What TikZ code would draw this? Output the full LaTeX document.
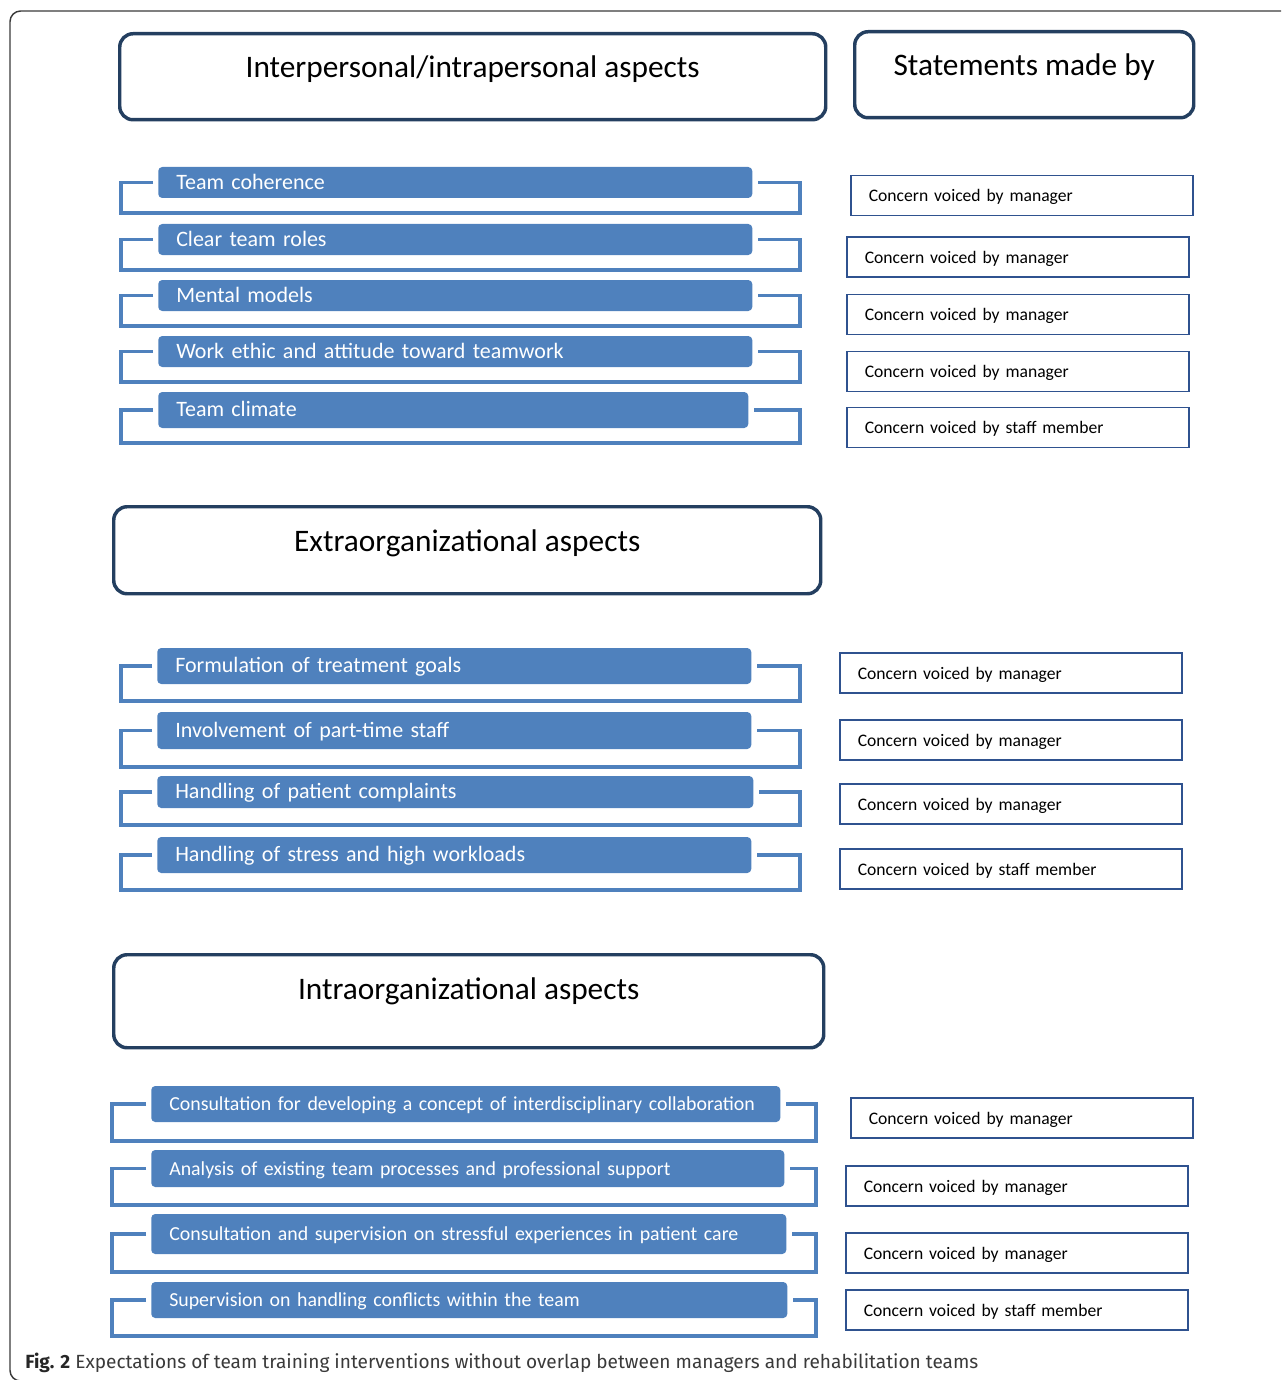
\documentclass[tikz,border=0pt]{standalone}
\usepackage{fontspec}
\setmainfont{Carlito}
\newfontfamily\capfont{Fira Sans}
\usepackage{tikz}
\definecolor{barblue}{HTML}{4F81BD}
\definecolor{headblue}{HTML}{243F60}
\definecolor{boxblue}{HTML}{2F528F}
\definecolor{capgray}{HTML}{3A3A3A}

\begin{document}
\begin{tikzpicture}[x=0.75pt,y=-0.75pt,
    head/.style={draw=headblue,line width=2.6pt,rounded corners=10pt,anchor=north west,
        inner sep=0pt,text height=33pt,text depth=31.5pt,font=\fontsize{23.5}{28}\selectfont},
    bar/.style={fill=barblue,rounded corners=3pt,anchor=west,text=white,text width=#1,align=left,
        inner xsep=13.5pt,inner ysep=0pt,text height=11pt,text depth=1pt,
        font=\fontsize{16.5}{20}\selectfont},
    smallbar/.style={bar=#1,font=\fontsize{14.9}{18}\selectfont},
    bracket/.style={draw=barblue,line width=2.8pt},
    voice/.style={draw=boxblue,line width=1.2pt,anchor=west,text width=229.5pt,align=left,
        inner xsep=13.5pt,inner ysep=0pt,minimum height=30pt,text height=9pt,text depth=0pt,
        font=\fontsize{13.2}{16}\selectfont}]
    \useasboundingbox(0,0)rectangle(1281,1380);
    % frame
    \draw[color=capgray,line width=1.1pt,rounded corners=8pt](1281,11)--(10,11)--(10,1381)--(1281,1381);

    % headers
    \node[head,minimum width=529.5pt](inter)at(118,32){Interpersonal/intrapersonal aspects};
    \node[head,minimum width=254.25pt](stat)at(853,30){Statements made by};
    \node[head,minimum width=530.25pt,text height=33.75pt](extra)at(112,505){Extraorganizational aspects};
    \node[head,minimum width=532.5pt,text height=33.75pt,text depth=36pt](intra)at(112,953){Intraorganizational aspects};

    % interpersonal/intrapersonal
    \node[bar=418.5pt,minimum height=23.25pt](coh)at(158,182.5){Team coherence};
    \node[bar=418.5pt,minimum height=23.25pt](roles)at(158,239.5){Clear team roles};
    \node[bar=418.5pt,minimum height=23.25pt](models)at(158,295.5){Mental models};
    \node[bar=418.5pt,minimum height=23.25pt](ethic)at(158,351.5){Work ethic and attitude toward teamwork};
    \node[bar=415.5pt,minimum height=27pt](climate)at(158,410){Team climate};
    \draw[bracket]([xshift=-3.75pt]coh.west)-|(121,213)--(800,213)|-([xshift=3.75pt]coh.east);
    \draw[bracket]([xshift=-3.75pt]roles.west)-|(121,270)--(800,270)|-([xshift=3.75pt]roles.east);
    \draw[bracket]([xshift=-3.75pt]models.west)-|(121,326)--(800,326)|-([xshift=3.75pt]models.east);
    \draw[bracket]([xshift=-3.75pt]ethic.west)-|(121,382)--(800,382)|-([xshift=3.75pt]ethic.east);
    \draw[bracket]([xshift=-3.75pt]climate.west)-|(121,443)--(800,443)|-([xshift=3.75pt]climate.east);
    \node[voice](v1)at(850,195.5){Concern voiced by manager};
    \node[voice](v2)at(846,257){Concern voiced by manager};
    \node[voice](v3)at(846,314.5){Concern voiced by manager};
    \node[voice](v4)at(846,371.5){Concern voiced by manager};
    \node[voice](v5)at(846,427.5){Concern voiced by staff member};

    % extraorganizational
    \node[bar=418.5pt,minimum height=27pt](goals)at(157,666){Formulation of treatment goals};
    \node[bar=418.5pt,minimum height=27.75pt](part)at(157,730.5){Involvement of part-time staff};
    \node[bar=420pt,minimum height=24pt](compl)at(157,792){Handling of patient complaints};
    \node[bar=418.5pt,minimum height=27pt](stress)at(157,855){Handling of stress and high workloads};
    \draw[bracket]([xshift=-3.75pt]goals.west)-|(121,701)--(800,701)|-([xshift=3.75pt]goals.east);
    \draw[bracket]([xshift=-3.75pt]part.west)-|(121,767)--(800,767)|-([xshift=3.75pt]part.east);
    \draw[bracket]([xshift=-3.75pt]compl.west)-|(121,825)--(800,825)|-([xshift=3.75pt]compl.east);
    \draw[bracket]([xshift=-3.75pt]stress.west)-|(121,890)--(800,890)|-([xshift=3.75pt]stress.east);
    \node[voice](v6)at(839,673){Concern voiced by manager};
    \node[voice](v7)at(839,740){Concern voiced by manager};
    \node[voice](v8)at(839,804){Concern voiced by manager};
    \node[voice](v9)at(839,869){Concern voiced by staff member};

    % intraorganizational
    \node[smallbar=444.75pt,minimum height=27pt](concept)at(151,1104){Consultation for developing a concept of interdisciplinary collaboration};
    \node[smallbar=447.75pt,minimum height=27.75pt](analysis)at(151,1168.5){Analysis of existing team processes and professional support};
    \node[smallbar=449.25pt,minimum height=30pt](superv)at(151,1234){Consultation and supervision on stressful experiences in patient care};
    \node[smallbar=450pt,minimum height=27pt](confl)at(151,1300){Supervision on handling conflicts within the team};
    \draw[bracket]([xshift=-3.75pt]concept.west)-|(112,1141)--(816,1141)|-([xshift=3.75pt]concept.east);
    \draw[bracket]([xshift=-3.75pt]analysis.west)-|(112,1205)--(816,1205)|-([xshift=3.75pt]analysis.east);
    \draw[bracket]([xshift=-3.75pt]superv.west)-|(112,1272)--(816,1272)|-([xshift=3.75pt]superv.east);
    \draw[bracket]([xshift=-3.75pt]confl.west)-|(112,1336)--(816,1336)|-([xshift=3.75pt]confl.east);
    \node[voice](v10)at(850,1118){Concern voiced by manager};
    \node[voice](v11)at(845,1186){Concern voiced by manager};
    \node[voice](v12)at(845,1253){Concern voiced by manager};
    \node[voice](v13)at(845,1310){Concern voiced by staff member};

    % caption
    \node[anchor=base west,inner sep=0pt,text=capgray,font=\capfont\fontsize{14.3}{17}\selectfont](cap)at(25,1368)
        {{\bfseries\color{black!85}Fig. 2} Expectations of team training interventions without overlap between managers and rehabilitation teams};
\end{tikzpicture}
\end{document}
